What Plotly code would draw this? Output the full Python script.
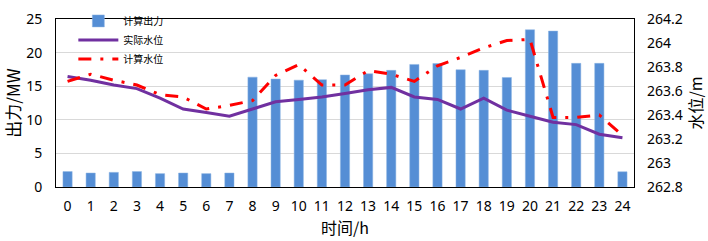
import plotly.graph_objects as go

hours = list(range(25))
hour_labels = [str(h) for h in hours]

power_mw = [2.3, 2.08, 2.18, 2.3, 1.99, 2.08, 1.99, 2.08, 16.35, 16.07, 15.9, 15.97, 16.67,
            16.85, 17.36, 18.24, 18.38, 17.45, 17.36, 16.3, 23.4, 23.2, 18.4, 18.4, 2.27]

actual_level = [263.72, 263.69, 263.65, 263.62, 263.54, 263.45, 263.42, 263.39, 263.45,
                263.51, 263.53, 263.55, 263.58, 263.61, 263.63, 263.55, 263.53, 263.45,
                263.54, 263.44, 263.39, 263.34, 263.32, 263.24, 263.21]

calc_level = [263.68, 263.74, 263.69, 263.65, 263.57, 263.55, 263.45, 263.48, 263.52,
              263.73, 263.82, 263.65, 263.65, 263.77, 263.74, 263.68, 263.81, 263.88,
              263.96, 264.02, 264.03, 263.38, 263.38, 263.40, 263.23]

left_ticks = [0, 5, 10, 15, 20, 25]
right_ticks = [262.8, 263.0, 263.2, 263.4, 263.6, 263.8, 264.0, 264.2]
right_tick_text = ["262.8", "263", "263.2", "263.4", "263.6", "263.8", "264", "264.2"]

names = ["计算出力", "实际水位", "计算水位"]

TICK_FONT = dict(family="Noto Sans, Open Sans, sans-serif", size=14, color="#000000")
CJK = "Noto Sans CJK SC, Noto Sans, sans-serif"

fig = go.Figure()
fig.add_trace(go.Bar(
    x=hours, y=power_mw, name=names[0], width=0.4,
    marker=dict(color="#558ED5", line=dict(color="#8DB4E2", width=0.5)),
    yaxis="y",
))
fig.add_trace(go.Scatter(
    x=hours, y=actual_level, name=names[1], mode="lines",
    line=dict(color="#7030A0", width=3), yaxis="y2",
))
fig.add_trace(go.Scatter(
    x=hours, y=calc_level, name=names[2], mode="lines",
    line=dict(color="#FF0000", width=3, dash="13px,9px,3px,9px"), yaxis="y2",
))

fig.update_layout(
    width=708, height=241,
    margin=dict(l=56, r=74, t=6, b=54),
    paper_bgcolor="white", plot_bgcolor="white",
    showlegend=True,
    legend=dict(
        x=0.03, y=1.075, xanchor="left", yanchor="top",
        bgcolor="rgba(0,0,0,0)",
        font=dict(family=CJK, size=10, color="#000000"),
        itemwidth=40, tracegroupgap=0,
    ),
    xaxis=dict(
        type="linear", range=[-0.5, 24.5],
        tickmode="array", tickvals=hours, ticktext=hour_labels,
        ticks="", showgrid=False, zeroline=False,
        showline=True, linecolor="#000000", linewidth=1, mirror=True,
        tickfont=TICK_FONT, ticklabelstandoff=6,
        title=dict(text="时间/h", font=dict(family=CJK, size=16, color="#000000"), standoff=8),
    ),
    yaxis=dict(
        range=[0, 25], tickmode="array", tickvals=left_ticks,
        ticks="", showgrid=True, gridcolor="#D9D9D9", gridwidth=1, zeroline=False,
        showline=True, linecolor="#000000", linewidth=1, mirror=True,
        tickfont=TICK_FONT, ticklabelstandoff=10, ticklabeloverflow="allow",
        title=dict(text="出力/MW", font=dict(family=CJK, size=17, color="#000000"), standoff=8),
    ),
    yaxis2=dict(
        range=[262.8, 264.2], overlaying="y", side="right",
        tickmode="array", tickvals=right_ticks, ticktext=right_tick_text,
        ticks="", showgrid=False, zeroline=False, showline=False,
        tickfont=TICK_FONT, ticklabelstandoff=12, ticklabeloverflow="allow",
        title=dict(text="水位/m", font=dict(family=CJK, size=16, color="#000000"), standoff=6),
    ),
)

fig.write_html(
    "out.html",
    config={"displayModeBar": False},
    post_script="document.body.style.margin='0';document.body.style.overflow='hidden';",
)
